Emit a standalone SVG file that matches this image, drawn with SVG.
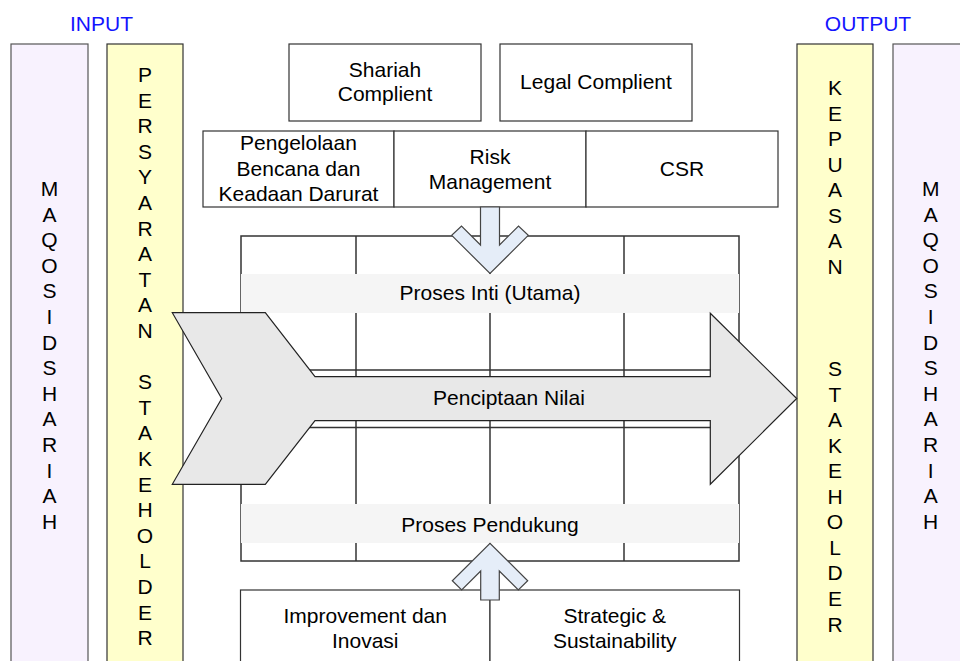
<svg xmlns="http://www.w3.org/2000/svg" width="960" height="661" viewBox="0 0 960 661">
<style>
text{font-family:"Liberation Sans",Arial,sans-serif;font-size:21px;fill:#000;text-anchor:middle}
.hdr{fill:#1414ff}
.box{fill:#fff;stroke:#333;stroke-width:1.2}
.lav{fill:#f8f2fe;stroke:#555;stroke-width:1.2}
.yel{fill:#ffffcc;stroke:#333;stroke-width:1.2}
.grid{stroke:#333;stroke-width:1.5;fill:none}
.band{fill:#f5f5f5;stroke:none}
.big{fill:#e8e8e8;stroke:#222;stroke-width:1.2;stroke-linejoin:miter}
.blk{fill:#e5edf8;stroke:#444;stroke-width:1.2}
</style>
<rect width="960" height="661" fill="#fff"/>

<text class="hdr" x="101.5" y="30.5">INPUT</text>
<text class="hdr" x="868" y="30.5">OUTPUT</text>

<g id="maqosid-left">
<rect class="lav" x="11" y="44" width="77" height="630"/>
<text><tspan x="49.5" y="196">M</tspan><tspan x="49.5" dy="25.6">A</tspan><tspan x="49.5" dy="25.6">Q</tspan><tspan x="49.5" dy="25.6">O</tspan><tspan x="49.5" dy="25.6">S</tspan><tspan x="49.5" dy="25.6">I</tspan><tspan x="49.5" dy="25.6">D</tspan><tspan x="49.5" dy="25.6">S</tspan><tspan x="49.5" dy="25.6">H</tspan><tspan x="49.5" dy="25.6">A</tspan><tspan x="49.5" dy="25.6">R</tspan><tspan x="49.5" dy="25.6">I</tspan><tspan x="49.5" dy="25.6">A</tspan><tspan x="49.5" dy="25.6">H</tspan></text>
</g>

<g id="persyaratan">
<rect class="yel" x="107" y="44" width="76" height="630"/>
<text><tspan x="145" y="82">P</tspan><tspan x="145" dy="25.6">E</tspan><tspan x="145" dy="25.6">R</tspan><tspan x="145" dy="25.6">S</tspan><tspan x="145" dy="25.6">Y</tspan><tspan x="145" dy="25.6">A</tspan><tspan x="145" dy="25.6">R</tspan><tspan x="145" dy="25.6">A</tspan><tspan x="145" dy="25.6">T</tspan><tspan x="145" dy="25.6">A</tspan><tspan x="145" dy="25.6">N</tspan><tspan x="145" dy="51.2">S</tspan><tspan x="145" dy="25.6">T</tspan><tspan x="145" dy="25.6">A</tspan><tspan x="145" dy="25.6">K</tspan><tspan x="145" dy="25.6">E</tspan><tspan x="145" dy="25.6">H</tspan><tspan x="145" dy="25.6">O</tspan><tspan x="145" dy="25.6">L</tspan><tspan x="145" dy="25.6">D</tspan><tspan x="145" dy="25.6">E</tspan><tspan x="145" dy="25.6">R</tspan></text>
</g>

<g id="kepuasan">
<rect class="yel" x="797" y="44" width="76" height="630"/>
<text><tspan x="835" y="95">K</tspan><tspan x="835" dy="25.55">E</tspan><tspan x="835" dy="25.55">P</tspan><tspan x="835" dy="25.55">U</tspan><tspan x="835" dy="25.55">A</tspan><tspan x="835" dy="25.55">S</tspan><tspan x="835" dy="25.55">A</tspan><tspan x="835" dy="25.55">N</tspan><tspan x="835" dy="102.2">S</tspan><tspan x="835" dy="25.55">T</tspan><tspan x="835" dy="25.55">A</tspan><tspan x="835" dy="25.55">K</tspan><tspan x="835" dy="25.55">E</tspan><tspan x="835" dy="25.55">H</tspan><tspan x="835" dy="25.55">O</tspan><tspan x="835" dy="25.55">L</tspan><tspan x="835" dy="25.55">D</tspan><tspan x="835" dy="25.55">E</tspan><tspan x="835" dy="25.55">R</tspan></text>
</g>

<g id="maqosid-right">
<rect class="lav" x="893" y="44" width="77" height="630"/>
<text><tspan x="930.7" y="196">M</tspan><tspan x="930.7" dy="25.6">A</tspan><tspan x="930.7" dy="25.6">Q</tspan><tspan x="930.7" dy="25.6">O</tspan><tspan x="930.7" dy="25.6">S</tspan><tspan x="930.7" dy="25.6">I</tspan><tspan x="930.7" dy="25.6">D</tspan><tspan x="930.7" dy="25.6">S</tspan><tspan x="930.7" dy="25.6">H</tspan><tspan x="930.7" dy="25.6">A</tspan><tspan x="930.7" dy="25.6">R</tspan><tspan x="930.7" dy="25.6">I</tspan><tspan x="930.7" dy="25.6">A</tspan><tspan x="930.7" dy="25.6">H</tspan></text>
</g>

<g id="shariah">
<rect class="box" x="289" y="44" width="192" height="77"/>
<text x="385" y="77">Shariah</text>
<text x="385" y="101">Complient</text>
</g>
<g id="legal">
<rect class="box" x="500" y="44" width="192" height="77"/>
<text x="596" y="89">Legal Complient</text>
</g>

<g id="pengelolaan">
<rect class="box" x="203" y="131" width="191" height="76"/>
<text x="298.5" y="150">Pengelolaan</text>
<text x="298.5" y="175.5">Bencana dan</text>
<text x="298.5" y="201">Keadaan Darurat</text>
</g>
<g id="risk">
<rect class="box" x="394" y="131" width="192" height="76"/>
<text x="490" y="164">Risk</text>
<text x="490" y="189">Management</text>
</g>
<g id="csr">
<rect class="box" x="586" y="131" width="192" height="76"/>
<text x="682" y="176">CSR</text>
</g>

<g id="process-grid">
<rect x="241" y="236" width="498" height="325" fill="#fff" class="grid"/>
<line class="grid" x1="356" y1="236" x2="356" y2="561"/>
<line class="grid" x1="490" y1="236" x2="490" y2="561"/>
<line class="grid" x1="624" y1="236" x2="624" y2="561"/>
<rect x="241" y="370" width="498" height="57.5" fill="#fff" class="grid"/>
</g>

<g id="proses-inti">
<rect class="band" x="241" y="274" width="498" height="39"/>
<text x="490" y="300">Proses Inti (Utama)</text>
</g>
<g id="proses-pendukung">
<rect class="band" x="241" y="504" width="498" height="39"/>
<text x="490" y="531.5">Proses Pendukung</text>
</g>

<g id="bottom-boxes">
<g id="improvement">
<rect class="box" x="240.5" y="590" width="249.5" height="90"/>
<text x="365.25" y="623">Improvement dan</text>
<text x="365.25" y="648">Inovasi</text>
</g>
<g id="strategic">
<rect class="box" x="490" y="590" width="249.5" height="90"/>
<text x="614.75" y="623">Strategic &amp;</text>
<text x="614.75" y="648">Sustainability</text>
</g>
</g>

<g id="penciptaan-nilai">
<polygon class="big" points="172.3,312.7 265.3,312.7 315,376.7 710.3,376.7 710.3,313.3 796.7,398.5 710.3,484.3 710.3,420.7 315,420.7 265.3,484.3 172.3,484.3 221.7,398.5"/>
<text x="509" y="405">Penciptaan Nilai</text>
</g>

<g id="connectors">
<polygon class="blk" points="480.5,207 499.5,207 499.5,245 518.5,226 528.3,235.3 490,273.5 451.7,235.3 461.5,226 480.5,245"/>
<polygon class="blk" points="480.7,600 499.3,600 499.3,571 518.3,590 527.7,580.7 490,543.3 452.3,580.7 461.7,590 480.7,571"/>
</g>
</svg>
